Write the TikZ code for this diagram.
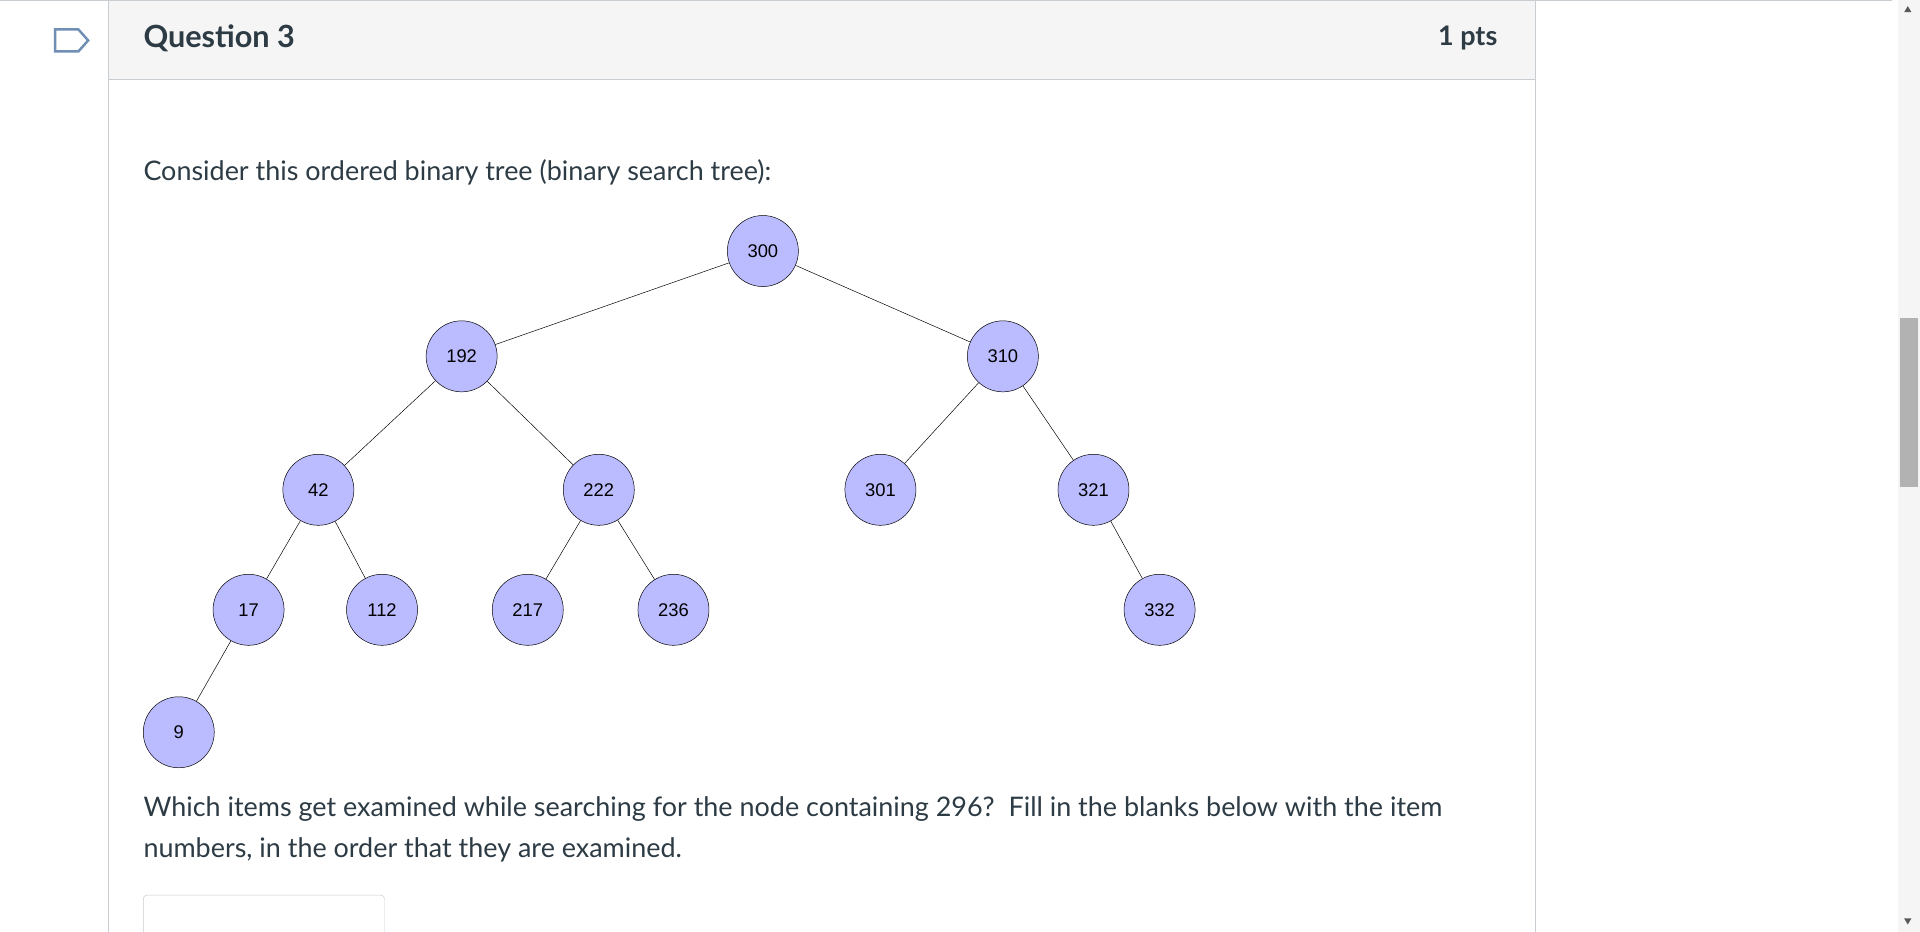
\documentclass[tikz,border=0pt]{standalone}
\usepackage{fontspec}
\setmainfont{Lato}
\newfontfamily\arialf{Liberation Sans}
\definecolor{nodefill}{HTML}{BBBBFF}
\definecolor{hdr}{HTML}{F5F5F5}
\definecolor{bord}{HTML}{C7CDD1}
\definecolor{txt}{HTML}{2D3B45}
\definecolor{tagblue}{HTML}{6F8FB5}
\begin{document}
\begin{tikzpicture}[x=1pt,y=-1pt,
  tn/.style={circle,draw=black,fill=nodefill,minimum size=58pt,inner sep=0pt,font=\arialf\fontsize{15}{18}\selectfont},
  qtext/.style={anchor=west,inner sep=0pt,text=txt,font=\fontsize{22}{26}\selectfont}]
\useasboundingbox (0,0) rectangle (1568,761);
\fill[white] (0,0) rectangle (1568,761);
% top line
\draw[bord] (0,0.5) -- (1545,0.5);
% header box
\draw[bord,fill=hdr] (88,0) rectangle (1254,65);
\draw[bord] (88,65) -- (88,761);
\draw[bord] (1254,65) -- (1254,761);
% tag icon
\draw[tagblue,line width=2pt] (45,24) -- (64,24) -- (72,33) -- (64,42) -- (45,42) -- cycle;
\node[anchor=west,inner sep=0pt,text=txt,font=\bfseries\fontsize{25}{30}\selectfont] (q) at (117,31) {Question 3};
\node[anchor=east,inner sep=0pt,text=txt,font=\bfseries\fontsize{22}{26}\selectfont] (pts) at (1223,31) {1 pts};
\node[qtext] (t1) at (117,141) {Consider this ordered binary tree (binary search tree):};
% tree
\node[tn] (n300) at (623,205) {300};
\node[tn] (n192) at (377,291) {192};
\node[tn] (n310) at (819,291) {310};
\node[tn] (n42) at (260,400) {42};
\node[tn] (n222) at (489,400) {222};
\node[tn] (n301) at (719,400) {301};
\node[tn] (n321) at (893,400) {321};
\node[tn] (n17) at (203,498) {17};
\node[tn] (n112) at (312,498) {112};
\node[tn] (n217) at (431,498) {217};
\node[tn] (n236) at (550,498) {236};
\node[tn] (n332) at (947,498) {332};
\node[tn] (n9) at (146,598) {9};
\foreach \a/\b in {300/192,300/310,192/42,192/222,310/301,310/321,42/17,42/112,222/217,222/236,321/332,17/9}
  \draw (n\a) -- (n\b);
\node[qtext] (t2) at (117,661) {Which items get examined while searching for the node containing 296?\ \ Fill in the blanks below with the item};
\node[qtext] (t3) at (117,694) {numbers, in the order that they are examined.};
% input box
\draw[bord,rounded corners=3pt] (117,770) -- (117,731) -- (314,731) -- (314,770);
% scrollbar
\fill[hdr] (1550,0) rectangle (1568,761);
\fill[gray!60] (1552,260) rectangle (1566,398);
\fill[gray!70!black] (1555,10) -- (1561,10) -- (1558,5) -- cycle;
\fill[gray!70!black] (1555,750) -- (1561,750) -- (1558,755) -- cycle;
\end{tikzpicture}
\end{document}
